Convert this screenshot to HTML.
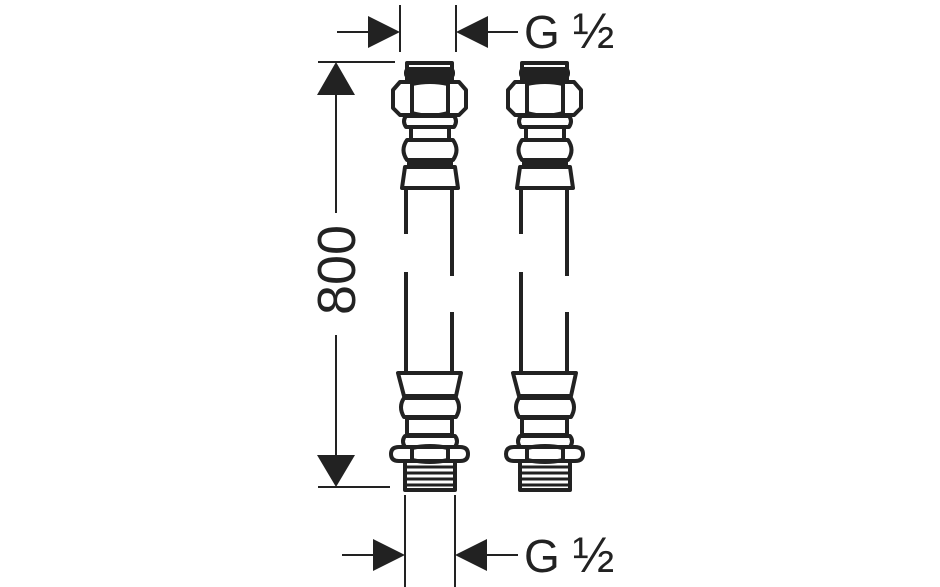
<!DOCTYPE html>
<html><head><style>html,body{margin:0;padding:0;background:#fff;}svg{display:block}</style></head>
<body>
<svg width="940" height="587" viewBox="0 0 940 587" xmlns="http://www.w3.org/2000/svg">
<defs>
<g id="hose" fill="none" stroke="#222" stroke-width="4" stroke-linejoin="round">
  <rect x="407" y="63" width="45" height="17"/>
  <rect x="406" y="69" width="47" height="8" rx="3" fill="#222"/>
  <path d="M400 82 H459 L466 90 V108 L459 115 H400 L393 108 V90 Z"/>
  <line x1="412" y1="82" x2="412" y2="115"/>
  <line x1="448" y1="82" x2="448" y2="115"/>
  <path d="M412 84 Q430 80 448 84" />
  <path d="M412 113 Q430 118 448 113" />
  <path d="M406 116 H454 Q458 121 454 127 H406 Q402 121 406 116 Z"/>
  <rect x="411" y="127" width="38" height="13"/>
  <path d="M407 140 H453 Q460 150 453 160 H407 Q400 150 407 140 Z"/>
  <line x1="407" y1="164" x2="453" y2="164"/>
  <path d="M405 167 H455 L458 188 H402 Z"/>
  <line x1="406" y1="188" x2="406" y2="234"/>
  <line x1="406" y1="272" x2="406" y2="373"/>
  <line x1="452" y1="188" x2="452" y2="276"/>
  <line x1="452" y1="312" x2="452" y2="373"/>
  <path d="M398 373 H461 L456 396 H404 Z"/>
  <path d="M404 398 H456 Q462 407 456 417 H404 Q398 407 404 398 Z"/>
  <rect x="407" y="418" width="45" height="17"/>
  <path d="M405 436 H455 Q459 441 455 447 H405 Q401 441 405 436 Z"/>
  <path d="M399 447 H460 Q468 447 468 454 Q468 461 460 461 H399 Q391 461 391 454 Q391 447 399 447 Z"/>
  <path d="M412 448 Q430 444 448 448 M412 460 Q430 464 448 460"/>
  <line x1="412" y1="447" x2="412" y2="461"/>
  <line x1="448" y1="447" x2="448" y2="461"/>
  <rect x="405" y="461" width="50" height="29"/>
  <line x1="405" y1="467" x2="455" y2="467" stroke-width="3"/>
  <line x1="405" y1="473" x2="455" y2="473" stroke-width="3"/>
  <line x1="405" y1="479" x2="455" y2="479" stroke-width="3"/>
  <line x1="405" y1="485" x2="455" y2="485" stroke-width="3"/>
</g>
</defs>
<use href="#hose"/>
<use href="#hose" transform="translate(115,0)"/>

<g stroke="#222" stroke-width="2" fill="none">
  <line x1="400" y1="5" x2="400" y2="52"/>
  <line x1="456" y1="5" x2="456" y2="52"/>
  <line x1="337" y1="32" x2="370" y2="32"/>
  <line x1="488" y1="32" x2="518" y2="32"/>
  <line x1="405" y1="495" x2="405" y2="587"/>
  <line x1="455" y1="495" x2="455" y2="587"/>
  <line x1="342" y1="555" x2="375" y2="555"/>
  <line x1="487" y1="555" x2="518" y2="555"/>
  <line x1="318" y1="62" x2="395" y2="62"/>
  <line x1="318" y1="487" x2="390" y2="487"/>
  <line x1="336" y1="90" x2="336" y2="213"/>
  <line x1="336" y1="335" x2="336" y2="460"/>
</g>
<g fill="#222">
  <polygon points="400,32 368,16 368,48"/>
  <polygon points="456,32 488,16 488,48"/>
  <polygon points="405,555 373,539 373,571"/>
  <polygon points="455,555 487,539 487,571"/>
  <polygon points="336,62 317,95 355,95"/>
  <polygon points="336,487 317,455 355,455"/>
</g>
<g font-family="Liberation Sans, sans-serif" fill="#222">
  <text x="524" y="48" font-size="46">G <tspan font-size="50">½</tspan></text>
  <text x="524" y="572" font-size="46">G <tspan font-size="50">½</tspan></text>
  <text transform="translate(355,270) rotate(-90)" text-anchor="middle" font-size="54">800</text>
</g>
</svg>
</body></html>
